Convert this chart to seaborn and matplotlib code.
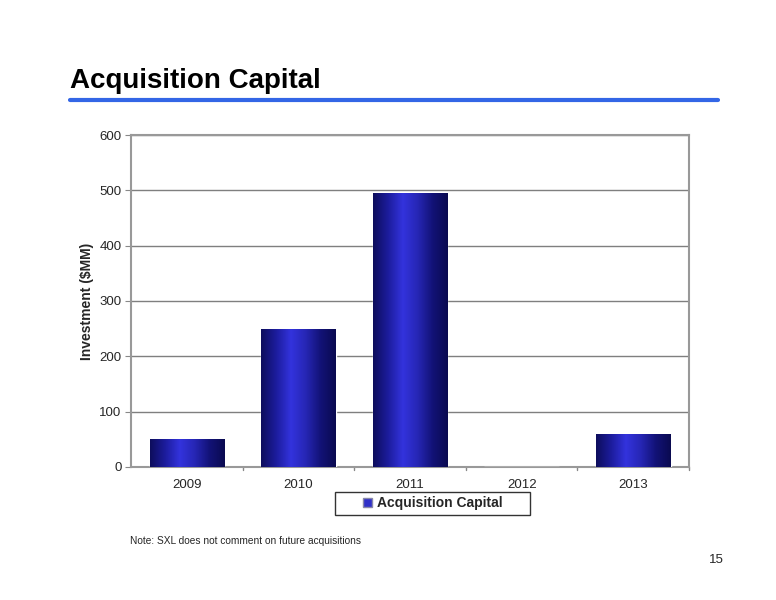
import numpy as np
import pandas as pd
import matplotlib
matplotlib.use('Agg')
import matplotlib.pyplot as plt
import seaborn as sns
from matplotlib.colors import LinearSegmentedColormap
from matplotlib.patches import Patch, Rectangle

# chart data
years = ['2009', '2010', '2011', '2012', '2013']
capital = [50, 250, 495, 0, 60]
y_ticks = [0, 100, 200, 300, 400, 500, 600]

df = pd.DataFrame({'Year': years, 'Acquisition Capital': capital})

sns.set_style('white')
plt.rcParams['font.family'] = ['Liberation Sans', 'DejaVu Sans']

fig = plt.figure(figsize=(7.76, 6), dpi=100)
ax = fig.add_axes([0.169, 0.222, 0.719, 0.553])

sns.barplot(data=df, x='Year', y='Acquisition Capital', color='#1a1aa0',
            width=0.67, ax=ax, zorder=3)

# cylinder-like shading on each bar
cmap = LinearSegmentedColormap.from_list(
    'cyl', ['#0d0d5c', '#1c1c9c', '#3333dd', '#2626b4', '#121276', '#0a0a50'])
grad = np.linspace(0, 1, 256).reshape(1, -1)
for bar in ax.patches:
    x0, y0 = bar.get_x(), bar.get_y()
    w, h = bar.get_width(), bar.get_height()
    if h <= 0:
        continue
    im = ax.imshow(grad, cmap=cmap, aspect='auto', extent=[x0, x0 + w, y0, y0 + h],
                   zorder=4)
    im.set_clip_path(bar)

ax.set_xlim(-0.5, 4.5)
ax.set_ylim(0, 600)
ax.set_yticks(y_ticks)
ax.set_yticklabels([str(t) for t in y_ticks], fontsize=9.5)
ax.tick_params(axis='x', labelsize=9.5, length=0, pad=9)
ax.tick_params(axis='y', length=4, color='#888888', left=True, pad=3)
for xt in np.arange(0.5, 5, 1):
    ax.plot([xt, xt], [0, -6], color='#888888', lw=1, clip_on=False)
ax.yaxis.grid(True, color='#7f7f7f', lw=1)
ax.set_axisbelow(True)
for s in ax.spines.values():
    s.set_color('#999999')
    s.set_linewidth(1.5)
ax.set_xlabel('')
ax.set_ylabel('Investment ($MM)', fontsize=10, fontweight='bold', labelpad=4)

# legend with a wide box drawn separately
ax.add_patch(Rectangle((0.366, -0.1446), 0.349, 0.0693, transform=ax.transAxes,
                       facecolor='white', edgecolor='#333333', lw=1, clip_on=False))
ax.legend(handles=[Patch(facecolor='#3030c8', edgecolor='#8888aa', label='Acquisition Capital')],
          loc='center', bbox_to_anchor=(0.541, -0.11), frameon=False,
          prop={'weight': 'bold', 'size': 10}, handlelength=0.6, handleheight=0.6,
          handletextpad=0.4)

fig.text(0.090, 0.853, 'Acquisition Capital', fontsize=20, fontweight='bold', color='black')
fig.add_artist(plt.Line2D([0.090, 0.925], [0.833, 0.833], color='#3366e6', lw=3))
fig.text(0.168, 0.093, 'Note: SXL does not comment on future acquisitions', fontsize=7.3)
fig.text(0.933, 0.062, '15', fontsize=9.5, ha='right')

fig.savefig('out.png', dpi=100)
